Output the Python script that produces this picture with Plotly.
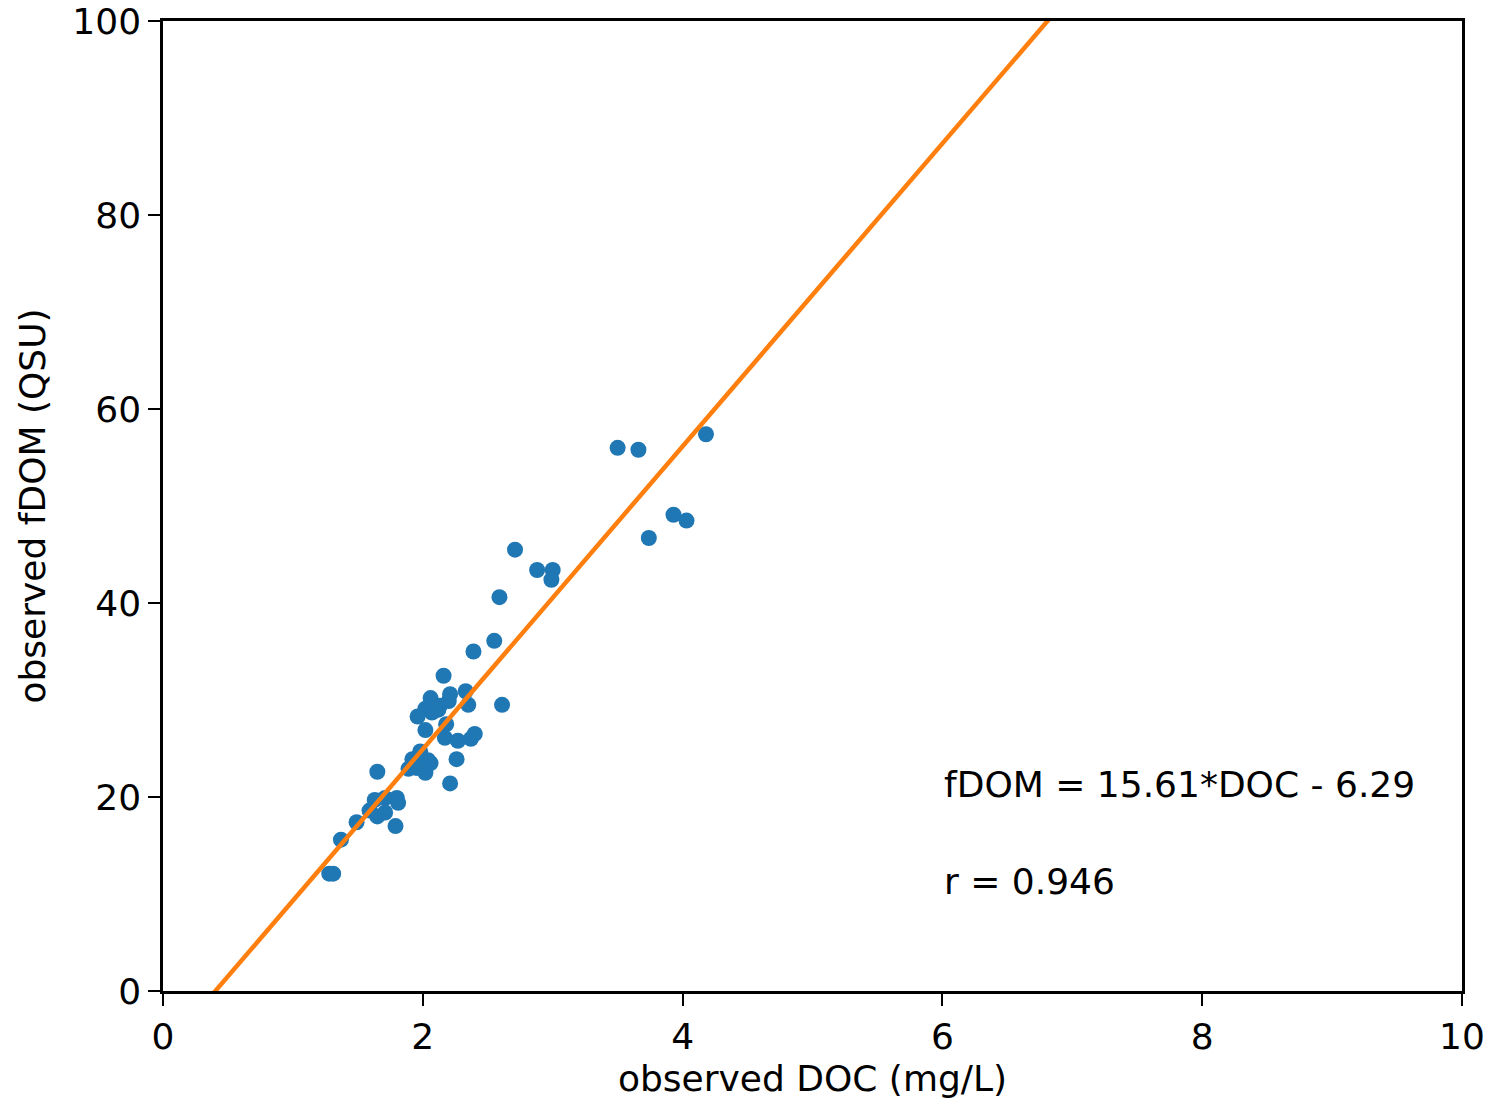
import plotly.graph_objects as go

doc = [3.50, 3.66, 4.18, 3.93, 4.03, 3.74, 2.71, 2.88, 3.00, 2.99, 2.59, 2.55, 2.39, 2.16,
       2.61, 2.33, 2.35, 2.06, 2.21, 2.20, 2.13, 2.07, 2.02, 1.96, 2.18, 2.02, 2.17, 2.27,
       2.37, 2.40, 2.26, 2.21, 1.98, 1.92, 1.89, 2.02, 2.06, 1.99, 2.04, 1.65, 1.63, 1.71,
       1.80, 1.81, 1.59, 1.65, 1.71, 1.79, 1.49, 1.37, 1.28, 1.31, 2.12, 2.09, 1.95]
fdom = [56.0, 55.8, 57.4, 49.1, 48.5, 46.7, 45.5, 43.4, 43.4, 42.4, 40.6, 36.1, 35.0, 32.5,
        29.5, 30.9, 29.5, 30.2, 30.6, 29.9, 29.4, 28.7, 29.1, 28.3, 27.5, 26.9, 26.1, 25.8,
        26.0, 26.5, 23.9, 21.4, 24.7, 23.9, 22.9, 22.5, 23.5, 23.2, 23.8, 22.6, 19.7, 19.9,
        19.9, 19.4, 18.6, 18.0, 18.4, 17.0, 17.4, 15.6, 12.1, 12.1, 29.0, 28.9, 23.0]

slope = 15.61
intercept = -6.29
line_x = [0, 10]
line_y = [slope * v + intercept for v in line_x]

eq_text = "fDOM = 15.61*DOC - 6.29"
r_text = "r = 0.946"

font_family = "DejaVu Sans"
fs = 36

fig = go.Figure()
fig.add_trace(go.Scatter(x=doc, y=fdom, mode="markers",
                         marker=dict(color="#1f77b4", size=16, line=dict(width=0)),
                         showlegend=False))
fig.add_trace(go.Scatter(x=line_x, y=line_y, mode="lines",
                         line=dict(color="#ff7f0e", width=4.5), showlegend=False))

axis_common = dict(showline=True, mirror=True, linecolor="black", linewidth=2.5,
                   ticks="outside", ticklen=12, tickwidth=2, tickcolor="black",
                   showgrid=False, zeroline=False, automargin=False,
                   tickfont=dict(family=font_family, size=fs, color="black"))

fig.update_xaxes(range=[0, 10], tickvals=[0, 2, 4, 6, 8, 10],
                 title=dict(text="observed DOC (mg/L)", font=dict(family=font_family, size=fs, color="black"), standoff=10),
                 **axis_common)
fig.update_yaxes(range=[0, 100], tickvals=[0, 20, 40, 60, 80, 100],
                 title=dict(text="observed fDOM (QSU)", font=dict(family=font_family, size=fs, color="black"), standoff=16),
                 **axis_common)

fig.add_annotation(x=6, y=21.3, xref="x", yref="y", text=eq_text, showarrow=False,
                   xanchor="left", yanchor="middle",
                   font=dict(family=font_family, size=fs, color="black"))
fig.add_annotation(x=6, y=11.3, xref="x", yref="y", text=r_text, showarrow=False,
                   xanchor="left", yanchor="middle",
                   font=dict(family=font_family, size=fs, color="black"))

fig.update_layout(width=1491, height=1101,
                  margin=dict(l=163, r=29, t=21, b=110),
                  plot_bgcolor="white", paper_bgcolor="white",
                  font=dict(family=font_family, size=fs, color="black"))

fig.write_html("out.html")
